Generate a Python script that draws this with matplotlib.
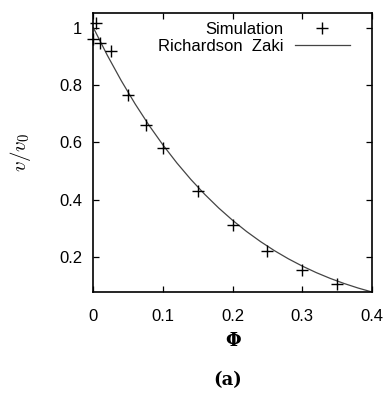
import matplotlib
matplotlib.use("Agg")
import matplotlib.pyplot as plt

# simulation points
phi_sim = [0.004, 0.0, 0.01, 0.025, 0.05, 0.075, 0.1, 0.15, 0.2, 0.25, 0.3, 0.35]
v_sim   = [1.015, 0.962, 0.948, 0.918, 0.765, 0.659, 0.581, 0.431, 0.313, 0.222, 0.156, 0.107]

# Richardson-Zaki curve, sampled off the figure
phi_rz = [0.0, 0.02, 0.04, 0.06, 0.08, 0.10, 0.12, 0.14, 0.16, 0.18, 0.20,
          0.22, 0.24, 0.26, 0.28, 0.30, 0.32, 0.34, 0.36, 0.38, 0.40]
v_rz   = [1.0, 0.9039, 0.8154, 0.7339, 0.6591, 0.5905, 0.5277, 0.4704, 0.4182, 0.3707, 0.3277,
          0.2887, 0.2536, 0.2219, 0.1935, 0.1681, 0.1454, 0.1252, 0.1074, 0.0916, 0.0778]

x_ticks = [0, 0.1, 0.2, 0.3, 0.4]
x_ticklabels = ["0", "0.1", "0.2", "0.3", "0.4"]
y_ticks = [0.2, 0.4, 0.6, 0.8, 1.0]
y_ticklabels = ["0.2", "0.4", "0.6", "0.8", "1"]

plt.rcParams['font.family'] = ['Liberation Sans', 'DejaVu Sans']
plt.rcParams['mathtext.fontset'] = 'cm'

fig = plt.figure(figsize=(3.85, 3.95), dpi=100)
ax = fig.add_axes([0.2424, 0.2608, 0.7238, 0.7055])

ax.plot(phi_sim, v_sim, linestyle="none", marker="+", markersize=9,
        markeredgewidth=1.0, color="black", label="Simulation", clip_on=False, zorder=3)
ax.plot(phi_rz, v_rz, color="#444444", linewidth=0.9, label="Richardson  Zaki")

ax.set_xlim(0, 0.4)
ax.set_ylim(0.0778, 1.05)
ax.set_xticks(x_ticks)
ax.set_xticklabels(x_ticklabels)
ax.set_yticks(y_ticks)
ax.set_yticklabels(y_ticklabels)
ax.tick_params(direction="in", top=True, right=True, length=4, width=0.9,
               labelsize=12)
ax.tick_params(axis="x", pad=12)
ax.tick_params(axis="y", pad=8)
for s in ax.spines.values():
    s.set_linewidth(1.2)

ax.set_ylabel(r"$v/v_0$", fontsize=15, labelpad=19)
ax.set_xlabel("Φ", fontsize=13, family="DejaVu Serif", fontweight="bold", labelpad=6)

ax.legend(loc="upper right", frameon=False, markerfirst=False, fontsize=12,
          handlelength=3.3, handletextpad=0.7, labelspacing=0.15,
          borderaxespad=0.3, borderpad=0.2,
          bbox_to_anchor=(0.95, 1.0))

fig.text(0.59, 0.038, "(a)", fontsize=13, family="DejaVu Serif",
         fontweight="bold", ha="center", va="center")

fig.savefig("out.png", dpi=100)
plt.close(fig)
